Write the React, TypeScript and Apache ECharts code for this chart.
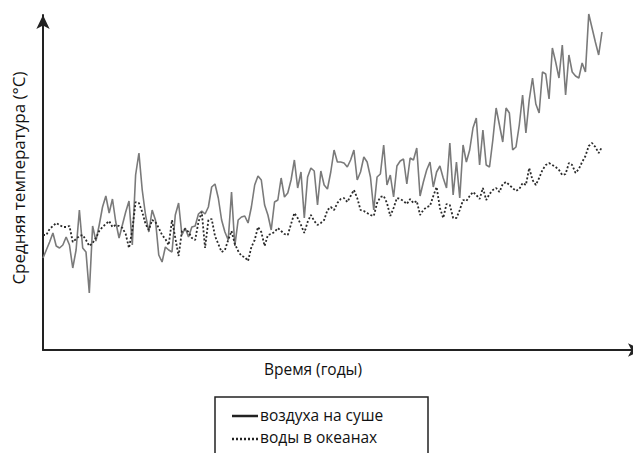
import React, { useEffect, useRef } from "react";
import * as echarts from "echarts";

const startYear = 1850;

const landValues = [
  -0.08, 0.0, 0.08, 0.17, 0.04, 0.02, 0.05, 0.13, 0.05, -0.18,
  0.0, 0.4, 0.02, -0.02, -0.43, 0.24, 0.09, 0.25, 0.43, 0.54,
  0.37, 0.51, 0.28, 0.12, 0.25, 0.38, 0.49, 0.05, 0.75, 0.97,
  0.6, 0.35, 0.18, 0.4, 0.3, -0.05, -0.12, 0.03, 0.0, -0.02,
  0.35, 0.47, 0.15, 0.22, 0.13, 0.23, 0.24, 0.36, 0.39, 0.36,
  0.43, 0.63, 0.66, 0.52, 0.3, 0.18, 0.1, 0.58, 0.04, 0.3,
  0.33, 0.34, 0.27, 0.43, 0.65, 0.74, 0.7, 0.45, 0.35, 0.2,
  0.48, 0.5, 0.72, 0.53, 0.57, 0.7, 0.9, 0.62, 0.78, 0.32,
  0.73, 0.82, 0.79, 0.45, 0.79, 0.65, 0.61, 0.78, 1.0, 0.88,
  0.88, 0.87, 0.83, 0.9, 1.0, 0.7, 0.78, 0.93, 0.88, 0.73,
  0.4, 0.73, 0.76, 1.05, 0.65, 0.75, 0.53, 0.84, 0.89, 0.91,
  0.66, 0.92, 0.9, 1.02, 0.54, 0.68, 0.8, 0.88, 0.63, 0.78,
  0.84, 0.72, 0.62, 1.07, 0.55, 0.88, 0.52, 1.05, 0.88, 1.0,
  1.22, 1.32, 0.85, 1.2, 0.85, 0.83, 1.1, 1.42, 1.25, 1.08,
  1.42, 1.37, 1.0, 1.03, 1.25, 1.55, 1.17, 1.5, 1.72, 1.46,
  1.37, 1.78, 1.76, 1.51, 2.02, 1.88, 1.72, 2.05, 1.55, 1.95,
  1.78, 1.74, 1.72, 1.87, 1.78, 2.36, 2.22, 2.08, 1.95, 2.18,
];

const oceanValues = [
  0.15, 0.15, 0.21, 0.24, 0.27, 0.25, 0.23, 0.23, 0.24, 0.08,
  0.11, 0.14, 0.15, 0.1, 0.04, 0.07, 0.12, 0.19, 0.23, 0.26,
  0.29, 0.23, 0.25, 0.24, 0.22, 0.16, 0.02, 0.2, 0.48, 0.47,
  0.38, 0.26, 0.2, 0.3, 0.28, 0.22, 0.15, 0.11, 0.05, 0.3,
  0.12, -0.06, 0.19, 0.21, 0.18, 0.12, 0.1, 0.28, 0.38, 0.02,
  0.3, 0.31, 0.14, 0.06, -0.02, 0.0, 0.1, 0.19, 0.06, -0.01,
  -0.06, -0.07, -0.11, 0.03, 0.1, 0.23, 0.18, 0.04, 0.15, 0.16,
  0.18, 0.22, 0.19, 0.16, 0.15, 0.26, 0.37, 0.32, 0.25, 0.17,
  0.28, 0.35, 0.29, 0.25, 0.27, 0.3, 0.4, 0.43, 0.4, 0.47,
  0.51, 0.52, 0.48, 0.54, 0.6, 0.52, 0.4, 0.39, 0.37, 0.35,
  0.34, 0.47, 0.53, 0.54, 0.47, 0.34, 0.42, 0.52, 0.51, 0.49,
  0.46, 0.51, 0.47, 0.49, 0.35, 0.4, 0.43, 0.44, 0.54, 0.63,
  0.42, 0.32, 0.46, 0.45, 0.32, 0.32, 0.4, 0.5, 0.49, 0.54,
  0.58, 0.55, 0.51, 0.62, 0.5, 0.56, 0.6, 0.62, 0.58, 0.66,
  0.68, 0.65, 0.62, 0.59, 0.61, 0.67, 0.65, 0.82, 0.7, 0.65,
  0.72, 0.8, 0.85, 0.87, 0.85, 0.83, 0.8, 0.75, 0.76, 0.87,
  0.85, 0.77, 0.81, 0.88, 0.94, 1.04, 1.07, 1.03, 0.97, 1.03,
];

const seriesNames = ["воздуха на суше", "воды в океанах"];
const xAxisTitle = "Время (годы)";
const yAxisTitle = "Средняя температура (°C)";

const FONT = "'Open Sans', 'Noto Sans', sans-serif";

export default function App() {
  const ref = useRef<HTMLDivElement>(null);

  useEffect(() => {
    if (!ref.current) return;
    const chart = echarts.init(ref.current, null, { renderer: "svg" });
    const land = landValues.map((v, i) => [startYear + i, v]);
    const ocean = oceanValues.map((v, i) => [startYear + i, v]);

    const axisLine = {
      show: true,
      onZero: false,
      symbol: ["none", "arrow"],
      symbolSize: [10, 14],
      lineStyle: { color: "#222", width: 2 },
    };

    chart.setOption({
      animation: false,
      backgroundColor: "#fff",
      grid: { left: 43, right: 8, top: 15, bottom: 103, containLabel: false },
      xAxis: {
        type: "value",
        min: 1850,
        max: 2031.1,
        axisLine,
        axisTick: { show: false },
        axisLabel: { show: false },
        splitLine: { show: false },
      },
      yAxis: {
        type: "value",
        min: -1.0,
        max: 2.35,
        axisLine,
        axisTick: { show: false },
        axisLabel: { show: false },
        splitLine: { show: false },
      },
      series: [
        {
          name: seriesNames[0],
          type: "line",
          data: land,
          showSymbol: false,
          clip: false,
          lineStyle: { color: "#7a7a7a", width: 1.6 },
          z: 2,
        },
        {
          name: seriesNames[1],
          type: "line",
          data: ocean,
          showSymbol: false,
          clip: false,
          lineStyle: { color: "#2a2a2a", width: 1.8, type: [2, 2] },
          z: 3,
        },
      ],
      graphic: [
        {
          type: "text",
          x: 18,
          y: 178,
          rotation: Math.PI / 2,
          style: {
            text: yAxisTitle,
            font: `17px ${FONT}`,
            fill: "#111",
            align: "center",
            verticalAlign: "middle",
          },
        },
        {
          type: "text",
          x: 313,
          y: 369,
          style: {
            text: xAxisTitle,
            font: `15.5px ${FONT}`,
            fill: "#111",
            align: "center",
            verticalAlign: "middle",
          },
        },
        {
          type: "rect",
          shape: { x: 215, y: 397, width: 213, height: 80 },
          style: { fill: "#fff", stroke: "#222", lineWidth: 1.5 },
        },
        {
          type: "line",
          shape: { x1: 232, y1: 416, x2: 258, y2: 416 },
          style: { stroke: "#222", lineWidth: 2.5 },
        },
        {
          type: "text",
          x: 260,
          y: 415,
          style: {
            text: seriesNames[0],
            font: `15.5px ${FONT}`,
            fill: "#111",
            align: "left",
            verticalAlign: "middle",
          },
        },
        {
          type: "line",
          shape: { x1: 232, y1: 439, x2: 258, y2: 439 },
          style: { stroke: "#222", lineWidth: 2.5, lineDash: [2, 2] },
        },
        {
          type: "text",
          x: 260,
          y: 437,
          style: {
            text: seriesNames[1],
            font: `15.5px ${FONT}`,
            fill: "#111",
            align: "left",
            verticalAlign: "middle",
          },
        },
      ],
    });
    return () => chart.dispose();
  }, []);

  return (
    <div
      ref={ref}
      style={{ position: "fixed", left: 0, top: 0, width: 650, height: 453, background: "#fff" }}
    />
  );
}
